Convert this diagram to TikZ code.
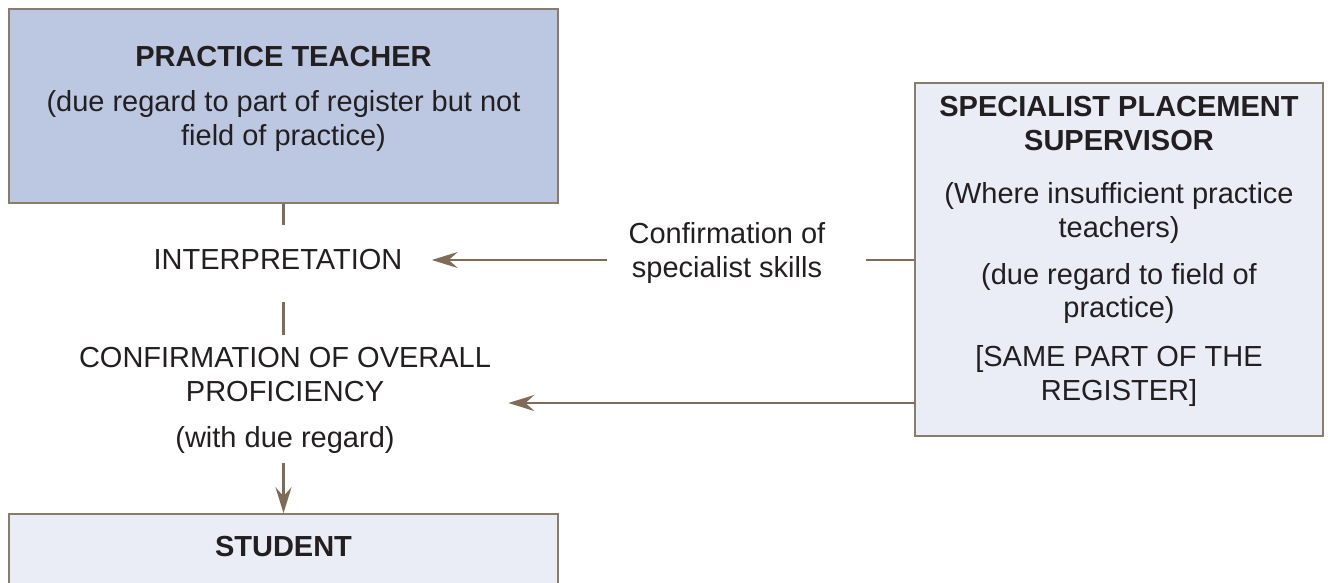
\documentclass[tikz,border=0pt]{standalone}
\usepackage{fontspec}
\setmainfont{Liberation Sans}
\usetikzlibrary{arrows.meta}

\definecolor{ptblue}{HTML}{BCC8E2}
\definecolor{paleblue}{HTML}{EAECF6}
\definecolor{edge}{HTML}{8A7C6A}
\definecolor{wire}{HTML}{7E6C58}
\definecolor{ink}{HTML}{231F20}

\tikzset{
  box/.style={draw=edge, line width=0.8pt, inner sep=0pt},
  txt/.style={text=ink, align=center, inner sep=0pt, font=\fontsize{14.5}{17}\selectfont},
  head/.style={txt, font=\fontsize{14.5}{17}\selectfont\bfseries},
  link/.style={draw=wire, line width=1.1pt},
  arr/.style={link, -{Stealth[length=13pt,width=8pt,inset=4.5pt]}}
}

\begin{document}
\begin{tikzpicture}[x=0.5pt,y=-0.5pt]
          \useasboundingbox (0,0) rectangle (1328,583);

          \node[box, fill=ptblue, minimum width=274.5pt, minimum height=97pt] (pt) at (283.5,106) {};
          \node[box, fill=paleblue, minimum width=274.5pt, minimum height=68pt] (st) at (283.5,582) {};
          \node[box, fill=paleblue, minimum width=204pt, minimum height=176.5pt] (sp) at (1119,259.5) {};

          \node[head] (pthead) at (283.5,57) {PRACTICE TEACHER};
          \node[txt] (ptnote) at (283.5,121) {(due regard to part of register but not\\field of practice)};
          \node[head] (sthead) at (283.5,547) {STUDENT};

          \node[head] (sphead) at (1119,123.5) {SPECIALIST PLACEMENT\\SUPERVISOR};
          \node[txt] (spwhere) at (1119,213) {(Where insufficient practice\\teachers)};
          \node[txt] (spfield) at (1119,293.5) {(due regard to field of\\practice)};
          \node[txt] (spsame) at (1119,376) {[SAME PART OF THE\\REGISTER]};

          \node[txt] (interp) at (278,260) {INTERPRETATION};
          \node[txt] (overall) at (285,374.5) {CONFIRMATION OF OVERALL\\PROFICIENCY};
          \node[txt] (regard) at (285,440) {(with due regard)};
          \node[txt] (confirm) at (727,253) {Confirmation of\\specialist skills};

          \coordinate (low) at (915,403);

          \draw[link, shorten >=12pt] (pt.south) -- (pt.south |- interp.north);
          \draw[link, shorten <=15.5pt, shorten >=6pt] (pt.south |- interp.south) -- (pt.south |- overall.north);
          \draw[arr, shorten <=4.5pt] (st.north |- regard.south) -- (st.north);

          \draw[link, shorten >=20pt] (sp.west |- interp) -- (confirm.east |- interp);
          \draw[arr, shorten <=10.5pt, shorten >=14.5pt] (confirm.west |- interp) -- (interp.east);
          \draw[arr, shorten >=8.5pt] (low) -- (low -| overall.east);

        \end{tikzpicture}
\end{document}
